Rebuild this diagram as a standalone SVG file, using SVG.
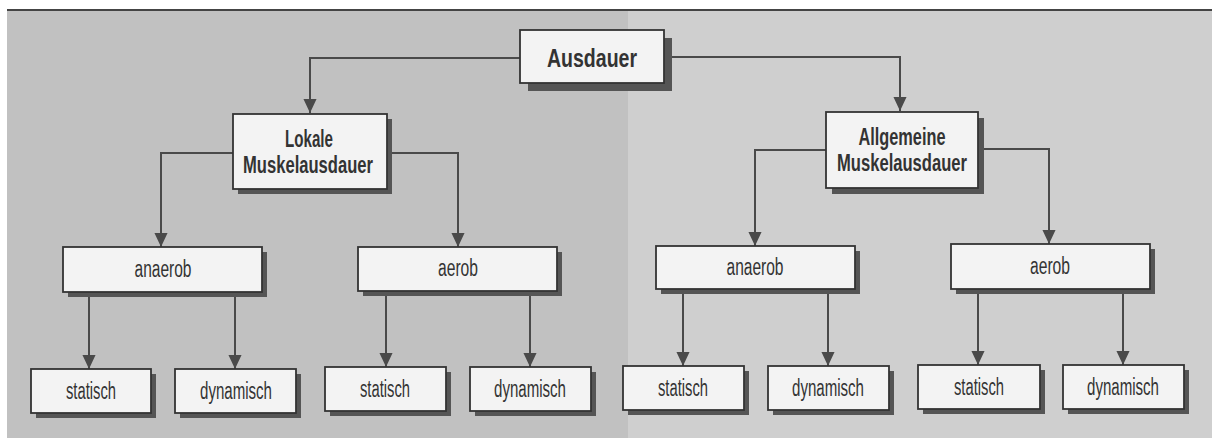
<svg xmlns="http://www.w3.org/2000/svg" width="1212" height="439" viewBox="0 0 1212 439">
<style>
.box{fill:#f3f3f3;stroke:#333;stroke-width:1.8}
.sh{fill:#555}
.ln{fill:none;stroke:#4a4a4a;stroke-width:2}
.t{font-family:"Liberation Sans",Arial,sans-serif;fill:#333;text-anchor:middle}
.b{font-weight:bold}
.n{font-size:23px}
</style>
<defs>
<marker id="a" markerUnits="userSpaceOnUse" markerWidth="14" markerHeight="14" refX="15" refY="7" orient="auto" viewBox="0 0 15 14">
<path d="M0,0 L15,7 L0,14 Z" fill="#4a4a4a"/>
</marker>
</defs>
<rect x="0" y="0" width="1212" height="439" fill="#ffffff"/>
<rect x="7" y="10" width="1205" height="428" fill="#c1c1c1"/>
<rect x="628" y="10" width="584" height="428" fill="#cfcfcf"/>
<line x1="7" y1="10" x2="1212" y2="10" stroke="#444" stroke-width="2"/>

<g id="connectors">
<path class="ln" d="M520,58 H310 V113" marker-end="url(#a)"/>
<path class="ln" d="M672,57 H900 V111" marker-end="url(#a)"/>
<path class="ln" d="M233,153 H161 V247" marker-end="url(#a)"/>
<path class="ln" d="M387,153 H458 V247" marker-end="url(#a)"/>
<path class="ln" d="M826,150 H755 V246" marker-end="url(#a)"/>
<path class="ln" d="M978,149 H1049 V244" marker-end="url(#a)"/>
<path class="ln" d="M89,292 V369" marker-end="url(#a)"/>
<path class="ln" d="M235,292 V369" marker-end="url(#a)"/>
<path class="ln" d="M386,291 V367" marker-end="url(#a)"/>
<path class="ln" d="M530,291 V367" marker-end="url(#a)"/>
<path class="ln" d="M683,289 V366" marker-end="url(#a)"/>
<path class="ln" d="M828,289 V366" marker-end="url(#a)"/>
<path class="ln" d="M978,289 V365" marker-end="url(#a)"/>
<path class="ln" d="M1123,289 V365" marker-end="url(#a)"/>
</g>

<g id="ausdauer">
<rect class="sh" x="528" y="38" width="144" height="53"/>
<rect class="box" x="520" y="30" width="144" height="53"/>
<text class="t b" x="592" y="67" font-size="26" textLength="90" lengthAdjust="spacingAndGlyphs">Ausdauer</text>
</g>

<g id="lokale">
<rect class="sh" x="238" y="119" width="154" height="75"/>
<rect class="box" x="233" y="114" width="154" height="75"/>
<text class="t b" x="309" y="147" font-size="23" textLength="48" lengthAdjust="spacingAndGlyphs">Lokale</text>
<text class="t b" x="308" y="173" font-size="23" textLength="130" lengthAdjust="spacingAndGlyphs">Muskelausdauer</text>
</g>

<g id="allgemeine">
<rect class="sh" x="832" y="118" width="152" height="76"/>
<rect class="box" x="826" y="112" width="152" height="76"/>
<text class="t b" x="902" y="145" font-size="23" textLength="87" lengthAdjust="spacingAndGlyphs">Allgemeine</text>
<text class="t b" x="902" y="171" font-size="23" textLength="130" lengthAdjust="spacingAndGlyphs">Muskelausdauer</text>
</g>

<g id="anaerob-l">
<rect class="sh" x="68" y="252" width="199" height="45"/>
<rect class="box" x="63" y="247" width="199" height="45"/>
<text class="t n" x="163" y="277" textLength="57" lengthAdjust="spacingAndGlyphs">anaerob</text>
</g>
<g id="aerob-l">
<rect class="sh" x="363" y="252" width="199" height="44"/>
<rect class="box" x="358" y="247" width="199" height="44"/>
<text class="t n" x="458" y="276" textLength="40" lengthAdjust="spacingAndGlyphs">aerob</text>
</g>
<g id="anaerob-r">
<rect class="sh" x="661" y="251" width="199" height="43"/>
<rect class="box" x="656" y="246" width="199" height="43"/>
<text class="t n" x="755" y="275" textLength="57" lengthAdjust="spacingAndGlyphs">anaerob</text>
</g>
<g id="aerob-r">
<rect class="sh" x="956" y="249" width="199" height="45"/>
<rect class="box" x="951" y="244" width="199" height="45"/>
<text class="t n" x="1050" y="274" textLength="40" lengthAdjust="spacingAndGlyphs">aerob</text>
</g>

<g id="statisch-1">
<rect class="sh" x="36" y="374" width="120" height="44"/>
<rect class="box" x="31" y="369" width="120" height="44"/>
<text class="t n" x="91" y="399" textLength="50" lengthAdjust="spacingAndGlyphs">statisch</text>
</g>
<g id="dynamisch-1">
<rect class="sh" x="180" y="374" width="121" height="44"/>
<rect class="box" x="175" y="369" width="121" height="44"/>
<text class="t n" x="236" y="399" textLength="72" lengthAdjust="spacingAndGlyphs">dynamisch</text>
</g>
<g id="statisch-2">
<rect class="sh" x="330" y="372" width="121" height="44"/>
<rect class="box" x="325" y="367" width="121" height="44"/>
<text class="t n" x="385" y="397" textLength="50" lengthAdjust="spacingAndGlyphs">statisch</text>
</g>
<g id="dynamisch-2">
<rect class="sh" x="475" y="372" width="121" height="44"/>
<rect class="box" x="470" y="367" width="121" height="44"/>
<text class="t n" x="530" y="397" textLength="72" lengthAdjust="spacingAndGlyphs">dynamisch</text>
</g>
<g id="statisch-3">
<rect class="sh" x="628" y="371" width="121" height="44"/>
<rect class="box" x="623" y="366" width="121" height="44"/>
<text class="t n" x="683" y="396" textLength="50" lengthAdjust="spacingAndGlyphs">statisch</text>
</g>
<g id="dynamisch-3">
<rect class="sh" x="773" y="371" width="121" height="44"/>
<rect class="box" x="768" y="366" width="121" height="44"/>
<text class="t n" x="828" y="396" textLength="72" lengthAdjust="spacingAndGlyphs">dynamisch</text>
</g>
<g id="statisch-4">
<rect class="sh" x="923" y="370" width="122" height="44"/>
<rect class="box" x="918" y="365" width="122" height="44"/>
<text class="t n" x="979" y="395" textLength="50" lengthAdjust="spacingAndGlyphs">statisch</text>
</g>
<g id="dynamisch-4">
<rect class="sh" x="1068" y="370" width="121" height="44"/>
<rect class="box" x="1063" y="365" width="121" height="44"/>
<text class="t n" x="1123" y="395" textLength="72" lengthAdjust="spacingAndGlyphs">dynamisch</text>
</g>
</svg>
